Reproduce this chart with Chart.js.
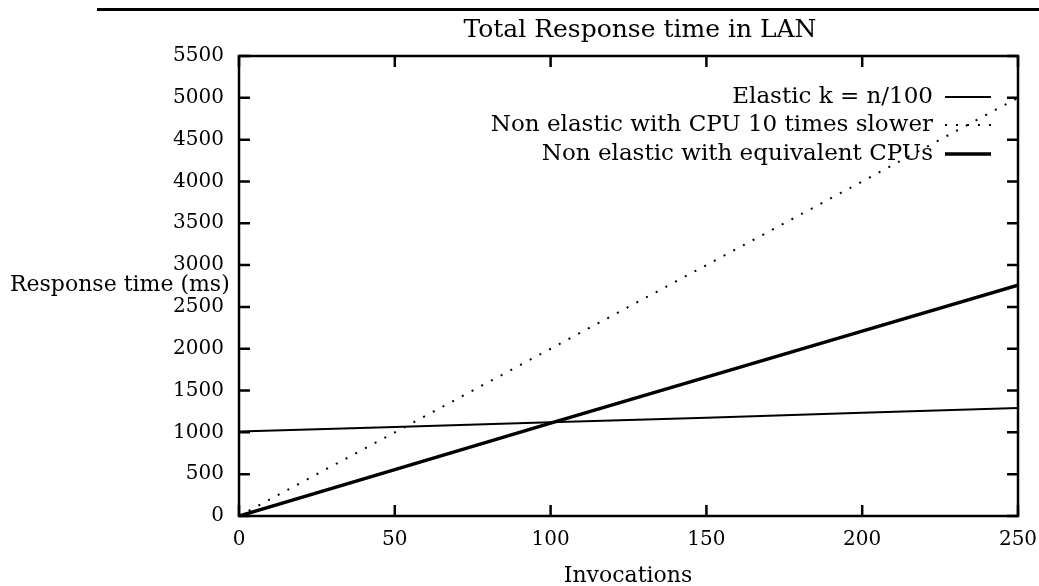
<!DOCTYPE html>
<html>
<head>
<meta charset="utf-8">
<title>Total Response time in LAN</title>
<script src="https://cdn.jsdelivr.net/npm/chart.js@4.4.1/dist/chart.umd.min.js"></script>
<style>
  body { margin: 0; background: #fff; }
  canvas { display: block; }
</style>
</head>
<body>
<canvas id="chart" width="1039" height="586"></canvas>
<script>
// data
const invocations = [0, 50, 100, 150, 200, 250];
const elastic = [1010, 1065, 1120, 1175, 1235, 1290];
const slowCpu = [0, 1000, 2000, 3000, 4000, 5000];
const equivCpu = [0, 555, 1110, 1660, 2210, 2760];
const yTicks = [0, 500, 1000, 1500, 2000, 2500, 3000, 3500, 4000, 4500, 5000, 5500];
const xTicks = [0, 50, 100, 150, 200, 250];

const FONT = '"DejaVu Serif", "Liberation Serif", serif';

function pts(ys) {
    return invocations.map((x, i) => ({ x: x, y: ys[i] }));
}

const series = [
    { label: 'Elastic k = n/100', data: elastic, width: 2, dash: [] },
    { label: 'Non elastic with CPU 10 times slower', data: slowCpu, width: 2, dash: [2, 9] },
    { label: 'Non elastic with equivalent CPUs', data: equivCpu, width: 3.5, dash: [] }
];

// extra drawing: frame, title, axis titles, inward ticks, legend
const decor = {
    id: 'decor',
    afterDraw(chart) {
        const ctx = chart.ctx;
        const a = chart.chartArea;
        const xs = chart.scales.x, ys = chart.scales.y;
        ctx.save();
        ctx.fillStyle = '#000';
        ctx.strokeStyle = '#000';

        // rule along the top
        ctx.lineWidth = 3;
        ctx.beginPath();
        ctx.moveTo(97, 9.5);
        ctx.lineTo(1039, 9.5);
        ctx.stroke();

        // frame
        ctx.lineWidth = 2.5;
        ctx.strokeRect(a.left, a.top, a.right - a.left, a.bottom - a.top);

        ctx.textBaseline = 'middle';
        ctx.textAlign = 'center';
        ctx.font = '25px ' + FONT;
        ctx.fillText('Total Response time in LAN', 640, 30);
        ctx.font = '22px ' + FONT;
        ctx.fillText('Invocations', 628, 576);
        ctx.textAlign = 'left';
        ctx.fillText('Response time (ms)', 10, 285);

        // ticks pointing inwards on all sides
        const len = 11;
        ctx.beginPath();
        yTicks.forEach(v => {
            const y = ys.getPixelForValue(v);
            ctx.moveTo(a.left, y); ctx.lineTo(a.left + len, y);
            ctx.moveTo(a.right, y); ctx.lineTo(a.right - len, y);
        });
        xTicks.forEach(v => {
            const x = xs.getPixelForValue(v);
            ctx.moveTo(x, a.bottom); ctx.lineTo(x, a.bottom - len);
            ctx.moveTo(x, a.top); ctx.lineTo(x, a.top + len);
        });
        ctx.stroke();

        // legend inside top right
        ctx.textAlign = 'right';
        ctx.font = '23px ' + FONT;
        const rows = [97, 125, 154];
        series.forEach((s, i) => {
            ctx.fillText(s.label, 933, rows[i]);
            ctx.lineWidth = s.width;
            ctx.setLineDash(s.dash);
            ctx.beginPath();
            ctx.moveTo(945, rows[i]);
            ctx.lineTo(991, rows[i]);
            ctx.stroke();
        });
        ctx.restore();
    }
};

new Chart(document.getElementById('chart'), {
    type: 'line',
    data: {
        datasets: series.map(s => ({
            label: s.label,
            data: pts(s.data),
            borderColor: '#000',
            borderWidth: s.width,
            borderDash: s.dash,
            pointRadius: 0,
            tension: 0,
            fill: false
        }))
    },
    options: {
        responsive: false,
        animation: false,
        devicePixelRatio: 1,
        layout: { padding: { left: 0, top: 56, right: 21, bottom: 0 } },
        plugins: {
            legend: { display: false },
            title: { display: false },
            tooltip: { enabled: false }
        },
        scales: {
            x: {
                type: 'linear',
                min: 0,
                max: 250,
                afterFit(scale) {
                    scale.height = 70;
                    scale.paddingLeft = 0;
                    scale.paddingRight = 0;
                },
                afterBuildTicks(scale) { scale.ticks = xTicks.map(v => ({ value: v })); },
                grid: { display: false, drawTicks: false },
                border: { display: false },
                ticks: {
                    color: '#000', padding: 12, font: { family: FONT, size: 20 },
                    callback: v => String(v)
                }
            },
            y: {
                type: 'linear',
                min: 0,
                max: 5500,
                afterFit(scale) {
                    scale.width = 239;
                    scale.paddingTop = 0;
                    scale.paddingBottom = 0;
                },
                afterBuildTicks(scale) { scale.ticks = yTicks.map(v => ({ value: v })); },
                grid: { display: false, drawTicks: false },
                border: { display: false },
                ticks: {
                    color: '#000', padding: 15, font: { family: FONT, size: 20 },
                    callback: v => String(v)
                }
            }
        }
    },
    plugins: [decor]
});
</script>
</body>
</html>
